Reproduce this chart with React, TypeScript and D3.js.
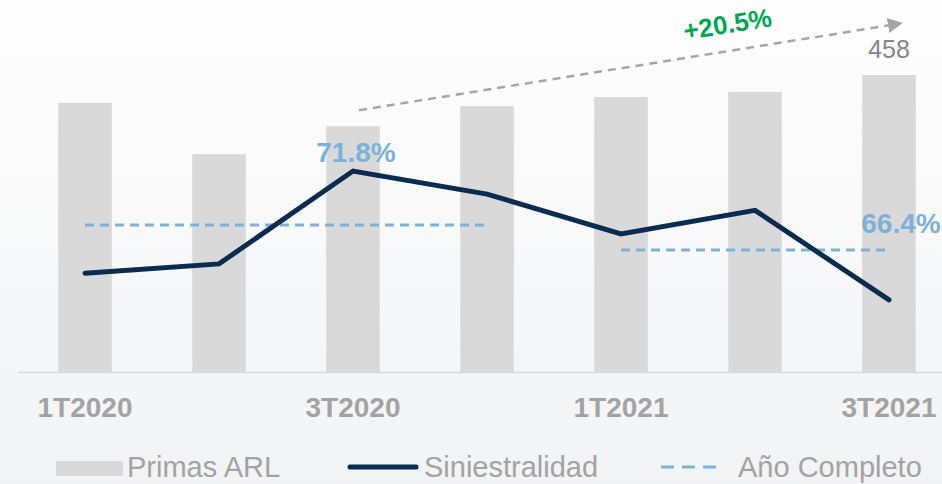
import { useEffect, useRef } from 'react'
import * as d3 from 'd3'

const categories = ['1T2020', '2T2020', '3T2020', '4T2020', '1T2021', '2T2021', '3T2021']
const primas = [415, 336, 379, 410, 424, 432, 458]
const siniestralidad = [61.4, 63.4, 83.5, 78.5, 69.9, 75.0, 55.6]
const annualLabels = ['71.8%', '66.4%']
const annualValues = [71.8, 66.4]
const annualRanges = [['1T2020', '4T2020'], ['1T2021', '3T2021']]
const growthLabel = '+20.5%'
const lastBarLabel = '458'

const W = 942
const H = 484
const FONT = '"Liberation Sans", Arial, sans-serif'

export default function App() {
  const svgRef = useRef<SVGSVGElement>(null)

  useEffect(() => {
    if (!svgRef.current) return
    const svg = d3.select(svgRef.current)
    svg.selectAll('*').remove()

    const defs = svg.append('defs')
    const bg = defs.append('linearGradient')
      .attr('id', 'bg-grad')
      .attr('x1', '0%').attr('y1', '0%')
      .attr('x2', '0%').attr('y2', '100%')
    bg.append('stop').attr('offset', '0%').attr('stop-color', '#fefefe')
    bg.append('stop').attr('offset', '100%').attr('stop-color', '#f2f3f5')

    defs.append('marker')
      .attr('id', 'arrow-head')
      .attr('viewBox', '0 0 10 10')
      .attr('refX', 2).attr('refY', 5)
      .attr('markerWidth', 6).attr('markerHeight', 6)
      .attr('markerUnits', 'strokeWidth')
      .attr('orient', 'auto')
      .append('path')
      .attr('d', 'M0,0 L10,5 L0,10 Z')
      .attr('fill', '#a6a6a6')

    svg.append('rect')
      .attr('width', W).attr('height', H)
      .attr('fill', 'url(#bg-grad)')

    // Scales
    const x = d3.scaleBand<string>()
      .domain(categories)
      .range([18, 956])
      .paddingInner(0.6)
      .paddingOuter(0.3)
    const cx = (c: string) => (x(c) ?? 0) + x.bandwidth() / 2

    const yBar = d3.scaleLinear().domain([0, 458]).range([372, 75])
    const yPct = d3.scaleLinear().domain([40, 90]).range([372, 141])

    // Bars
    svg.append('g')
      .selectAll('rect')
      .data(primas)
      .join('rect')
      .attr('x', (_d, i) => x(categories[i]) ?? 0)
      .attr('y', d => yBar(d))
      .attr('width', x.bandwidth())
      .attr('height', d => yBar(0) - yBar(d))
      .attr('fill', '#d9d9d9')

    // Baseline
    svg.append('line')
      .attr('x1', 18).attr('x2', W)
      .attr('y1', yBar(0) + 0.5).attr('y2', yBar(0) + 0.5)
      .attr('stroke', '#d9d9d9')
      .attr('stroke-width', 1.5)

    // X axis labels (every other quarter)
    const xAxis = d3.axisBottom(x)
      .tickValues(categories.filter((_c, i) => i % 2 === 0))
      .tickSize(0)
      .tickPadding(25)
    const ax = svg.append('g')
      .attr('transform', `translate(0,${yBar(0)})`)
      .call(xAxis)
    ax.select('.domain').remove()
    ax.selectAll('text')
      .style('font-family', FONT)
      .style('font-size', '28px')
      .style('font-weight', 'bold')
      .style('fill', '#a3a3a3')

    // Annual (Año Completo) dashed lines
    annualRanges.forEach((r, i) => {
      svg.append('line')
        .attr('x1', cx(r[0])).attr('x2', cx(r[1]) + 2)
        .attr('y1', yPct(annualValues[i])).attr('y2', yPct(annualValues[i]))
        .attr('stroke', '#7eb1da')
        .attr('stroke-width', 3)
        .attr('stroke-dasharray', '9,6')
    })

    // Siniestralidad line
    const line = d3.line<number>()
      .x((_d, i) => cx(categories[i]))
      .y(d => yPct(d))
    svg.append('path')
      .datum(siniestralidad)
      .attr('d', line)
      .attr('fill', 'none')
      .attr('stroke', '#0b2b50')
      .attr('stroke-width', 5)
      .attr('stroke-linecap', 'round')
      .attr('stroke-linejoin', 'miter')

    // Annual labels
    svg.append('text')
      .attr('x', cx('3T2020') + 3)
      .attr('y', 162)
      .attr('text-anchor', 'middle')
      .style('font-family', FONT)
      .style('font-size', '28px')
      .style('font-weight', 'bold')
      .style('fill', '#7eb1da')
      .text(annualLabels[0])
    svg.append('text')
      .attr('x', cx('3T2021') + 12)
      .attr('y', yPct(annualValues[1]) - 17)
      .attr('text-anchor', 'middle')
      .style('font-family', FONT)
      .style('font-size', '28px')
      .style('font-weight', 'bold')
      .style('fill', '#7eb1da')
      .text(annualLabels[1])

    // Last bar value
    svg.append('text')
      .attr('x', cx('3T2021'))
      .attr('y', yBar(primas[6]) - 17)
      .attr('text-anchor', 'middle')
      .style('font-family', FONT)
      .style('font-size', '25px')
      .style('fill', '#858585')
      .text(lastBarLabel)

    // Growth arrow
    const x0 = cx('3T2020') + 6
    const y0 = yBar(primas[2]) - 16
    const x1 = cx('3T2021') + 2
    const y1 = 25
    svg.append('line')
      .attr('x1', x0).attr('y1', y0)
      .attr('x2', x1).attr('y2', y1)
      .attr('stroke', '#a6a6a6')
      .attr('stroke-width', 2.5)
      .attr('stroke-dasharray', '8,6')
      .attr('marker-end', 'url(#arrow-head)')

    const angle = Math.atan2(y1 - y0, x1 - x0) * 180 / Math.PI
    svg.append('text')
      .attr('transform', `translate(729,33) rotate(${angle})`)
      .attr('text-anchor', 'middle')
      .style('font-family', FONT)
      .style('font-size', '26px')
      .style('font-weight', 'bold')
      .style('fill', '#00a84f')
      .text(growthLabel)

    // Legend
    const legend = svg.append('g').attr('transform', 'translate(0,468)')
    const legendText = (lx: number, t: string) =>
      legend.append('text')
        .attr('x', lx).attr('y', 9)
        .style('font-family', FONT)
        .style('font-size', '29px')
        .style('fill', '#a3a3a3')
        .text(t)

    legend.append('rect')
      .attr('x', 56).attr('y', -7)
      .attr('width', 67).attr('height', 15)
      .attr('fill', '#d9d9d9')
    legendText(127, 'Primas ARL')

    legend.append('line')
      .attr('x1', 350).attr('x2', 416)
      .attr('y1', -1).attr('y2', -1)
      .attr('stroke', '#0b2b50')
      .attr('stroke-width', 5)
      .attr('stroke-linecap', 'round')
    legendText(424, 'Siniestralidad')

    legend.append('line')
      .attr('x1', 661).attr('x2', 720)
      .attr('y1', -1).attr('y2', -1)
      .attr('stroke', '#7eb1da')
      .attr('stroke-width', 3)
      .attr('stroke-dasharray', '13,8')
    legendText(738, 'Año Completo')
  }, [])

  return (
    <svg
      ref={svgRef}
      width={W}
      height={H}
      style={{ position: 'absolute', left: 0, top: 0, display: 'block' }}
    />
  )
}
